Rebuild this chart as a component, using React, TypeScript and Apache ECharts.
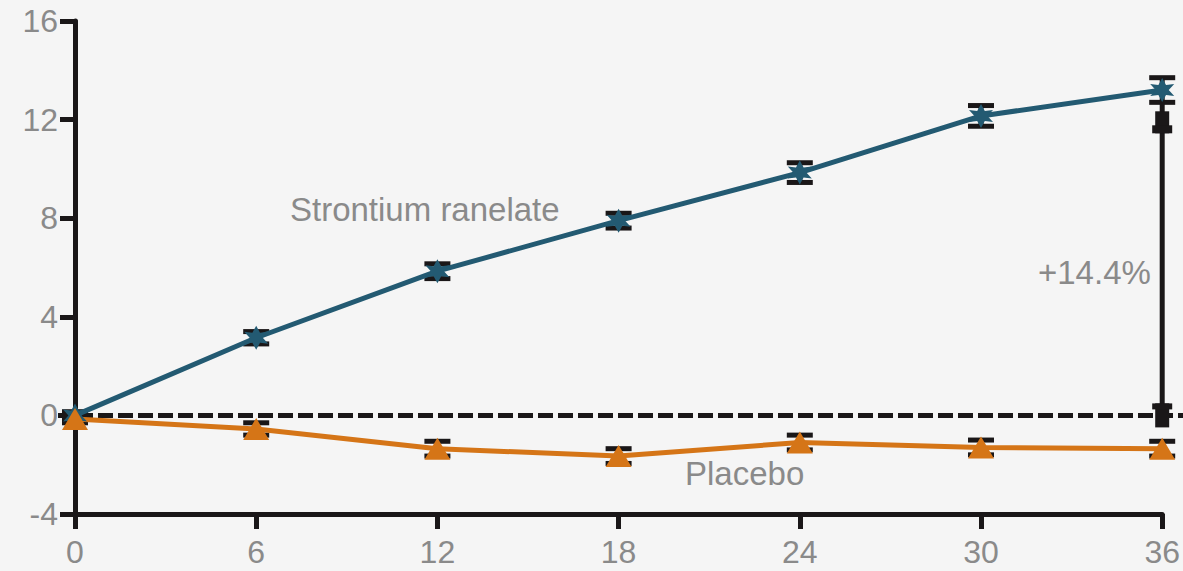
import React, { useEffect, useRef } from "react";
import * as echarts from "echarts";

const months = [0, 6, 12, 18, 24, 30, 36];
const strontium = [0, 3.15, 5.85, 7.9, 9.85, 12.15, 13.2];
const strontiumErr = [0.15, 0.25, 0.3, 0.3, 0.4, 0.42, 0.5];
const placebo = [-0.15, -0.55, -1.35, -1.65, -1.1, -1.3, -1.35];
const placeboErr = [0.15, 0.25, 0.3, 0.3, 0.3, 0.3, 0.3];
const xTicks = { min: 0, max: 36, interval: 6 };
const yTicks = { min: -4, max: 16, interval: 4 };
const diffBracket = { x: 36, from: 0, to: 12.65, arrowUp: 11.85, label: "+14.4%" };
const seriesNames = ["Strontium ranelate", "Placebo"];

const BLUE = "#235a72";
const ORANGE = "#d57517";
const BLACK = "#1a1718";
const GREY = "#8a8a8a";
const FONT = "Liberation Sans, Arial, sans-serif";

const STAR =
  "path://M0,-12 L3.5,-5 L11,-6 L6,0 L11,6 L3.5,5 L0,12 L-3.5,5 L-11,6 L-6,0 L-11,-6 L-3.5,-5 Z";

function errorSeries(vals: number[], errs: number[]) {
  return {
    type: "custom",
    z: 1,
    silent: true,
    data: months.map((m, i) => [m, vals[i], errs[i]]),
    renderItem: (params: any, api: any) => {
      const x = api.value(0);
      const y = api.value(1);
      const e = api.value(2);
      const top = api.coord([x, y + e]);
      const bot = api.coord([x, y - e]);
      const hw = 13;
      const st = { stroke: BLACK, lineWidth: 5, fill: "none" };
      return {
        type: "group",
        children: [
          { type: "line", shape: { x1: top[0], y1: top[1], x2: bot[0], y2: bot[1] }, style: st },
          { type: "line", shape: { x1: top[0] - hw, y1: top[1], x2: top[0] + hw, y2: top[1] }, style: st },
          { type: "line", shape: { x1: bot[0] - hw, y1: bot[1], x2: bot[0] + hw, y2: bot[1] }, style: st },
        ],
      };
    },
  };
}

export default function App() {
  const ref = useRef<HTMLDivElement>(null);
  useEffect(() => {
    if (!ref.current) return;
    const chart = echarts.init(ref.current, null, { renderer: "svg" });
    const axisCommon = {
      axisLine: { show: true, onZero: false, lineStyle: { color: BLACK, width: 5 } },
      axisTick: { show: true, length: 15, lineStyle: { color: BLACK, width: 5 } },
      splitLine: { show: false },
    };
    chart.setOption({
      animation: false,
      backgroundColor: "#f5f5f5",
      grid: { left: 75, right: 18, top: 21, bottom: 57 },
      xAxis: {
        type: "value",
        ...xTicks,
        ...axisCommon,
        axisLabel: { color: GREY, fontSize: 32, margin: 22, lineHeight: 32, fontFamily: FONT },
      },
      yAxis: {
        type: "value",
        ...yTicks,
        ...axisCommon,
        axisLabel: { color: GREY, fontSize: 32, margin: 17, fontFamily: FONT },
      },
      series: [
        errorSeries(strontium, strontiumErr),
        errorSeries(placebo, placeboErr),
        {
          type: "custom",
          z: 1,
          silent: true,
          data: [[diffBracket.x, diffBracket.from, diffBracket.to, diffBracket.arrowUp]],
          renderItem: (params: any, api: any) => {
            const x = api.value(0);
            const p0 = api.coord([x, api.value(1)]);
            const p1 = api.coord([x, api.value(2)]);
            const pa = api.coord([x, api.value(3)]);
            return {
              type: "group",
              children: [
                { type: "line", shape: { x1: p0[0], y1: p0[1], x2: p1[0], y2: p1[1] }, style: { stroke: BLACK, lineWidth: 5 } },
                { type: "rect", shape: { x: pa[0] - 7, y: pa[1] - 12, width: 14, height: 22 }, style: { fill: BLACK } },
                { type: "rect", shape: { x: pa[0] - 10, y: pa[1] + 2, width: 20, height: 8 }, style: { fill: BLACK } },
                { type: "rect", shape: { x: p0[0] - 7, y: p0[1] - 12, width: 14, height: 24 }, style: { fill: BLACK } },
                { type: "rect", shape: { x: p0[0] - 10, y: p0[1] - 12, width: 20, height: 6 }, style: { fill: BLACK } },
              ],
            };
          },
        },
        {
          name: seriesNames[0],
          type: "line",
          z: 3,
          data: months.map((m, i) => [m, strontium[i]]),
          symbol: STAR,
          symbolSize: 24,
          showSymbol: true,
          itemStyle: { color: BLUE },
          lineStyle: { color: BLUE, width: 5 },
        },
        {
          name: seriesNames[1],
          type: "line",
          z: 3,
          data: months.map((m, i) => [m, placebo[i]]),
          symbol: "triangle",
          symbolSize: [26, 22],
          showSymbol: true,
          itemStyle: { color: ORANGE },
          lineStyle: { color: ORANGE, width: 5 },
        },
      ],
    });
    const y0 = chart.convertToPixel({ yAxisIndex: 0 }, 0) as number;
    chart.setOption({
      graphic: [
        {
          type: "line",
          z: 2,
          shape: { x1: 58, y1: y0, x2: 1183, y2: y0 },
          style: { stroke: BLACK, lineWidth: 5, lineDash: [15, 5] },
        },
        {
          type: "text",
          x: 290,
          y: 209,
          style: { text: seriesNames[0], fill: GREY, font: `33px ${FONT}`, verticalAlign: "middle" },
        },
        {
          type: "text",
          x: 685,
          y: 473,
          style: { text: seriesNames[1], fill: GREY, font: `33px ${FONT}`, verticalAlign: "middle" },
        },
        {
          type: "text",
          x: 1038,
          y: 272,
          style: { text: diffBracket.label, fill: GREY, font: `33px ${FONT}`, verticalAlign: "middle" },
        },
      ],
    });
    return () => chart.dispose();
  }, []);
  return (
    <div
      ref={ref}
      style={{ position: "fixed", left: 0, top: 0, width: 1183, height: 571 }}
    />
  );
}
